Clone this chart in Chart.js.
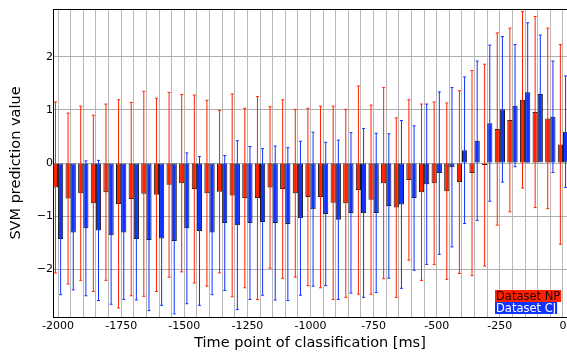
<!DOCTYPE html>
<html>
<head>
<meta charset="utf-8">
<script src="https://cdn.jsdelivr.net/npm/chart.js@4/dist/chart.umd.min.js"></script>
<style>
  html, body { margin: 0; padding: 0; background: #fff; overflow: hidden; }
  #wrap { width: 567px; height: 356px; }
</style>
</head>
<body>
<div id="wrap"><canvas id="chart-svm" width="567" height="356"></canvas></div>
<script>
// ── Data ────────────────────────────────────────────────────────────────────
const TIMES = [-2000, -1950, -1900, -1850, -1800, -1750, -1700, -1650, -1600, -1550,
               -1500, -1450, -1400, -1350, -1300, -1250, -1200, -1150, -1100, -1050,
               -1000, -950, -900, -850, -800, -750, -700, -650, -600, -550,
               -500, -450, -400, -350, -300, -250, -200, -150, -100, -50, 0];

const X_TICKS = [-2000, -1750, -1500, -1250, -1000, -750, -500, -250, 0];
const Y_TICKS = [-2, -1, 0, 1, 2];

// Dataset NP: mean prediction and error (std) per time point
const NP_MEAN = [-0.46, -0.67, -0.57, -0.76, -0.55, -0.77, -0.68, -0.58, -0.60, -0.41,
                 -0.38, -0.49, -0.57, -0.54, -0.61, -0.66, -0.66, -0.46, -0.49, -0.57,
                 -0.64, -0.64, -0.75, -0.76, -0.51, -0.69, -0.38, -0.84, -0.32, -0.55,
                 -0.38, -0.53, -0.36, -0.19, -0.04, 0.64, 0.81, 1.19, 0.96, 0.84, 0.35];
const NP_ERR  = [1.61, 1.61, 1.64, 1.66, 1.66, 1.96, 1.82, 1.93, 1.82, 1.74,
                 1.67, 1.77, 1.75, 1.53, 1.91, 1.69, 1.91, 1.52, 1.68, 1.58,
                 1.67, 1.71, 1.82, 1.77, 1.96, 1.78, 1.80, 1.69, 1.51, 1.66,
                 1.53, 1.66, 1.72, 1.93, 1.90, 1.81, 1.73, 1.66, 1.80, 1.70, 1.88];

// Dataset CJ
const CJ_MEAN = [-1.43, -1.31, -1.23, -1.27, -1.36, -1.31, -1.43, -1.45, -1.42, -1.47,
                 -1.23, -1.28, -1.31, -1.13, -1.17, -1.13, -1.11, -1.13, -1.15, -1.04,
                 -0.87, -0.96, -1.07, -0.94, -0.94, -0.94, -0.81, -0.78, -0.66, -0.40,
                 -0.19, -0.08, 0.24, 0.42, 0.75, 1.01, 1.08, 1.33, 1.30, 0.87, 0.59];
const CJ_ERR  = [1.05, 1.08, 1.27, 1.32, 1.30, 1.26, 1.15, 1.33, 1.26, 1.37,
                 1.42, 1.40, 1.17, 1.27, 1.59, 1.44, 1.38, 1.45, 1.44, 1.45,
                 1.45, 1.35, 1.50, 1.51, 1.59, 1.50, 1.36, 1.58, 1.36, 1.51,
                 1.53, 1.50, 1.38, 1.50, 1.47, 1.37, 1.15, 1.31, 1.11, 1.05, 1.05];

const SERIES_LABELS = ['Dataset NP', 'Dataset CJ'];

// ── Colours ──────────────────────────────────────────────────────────────────
const RED  = '#ff2200';
const BLUE = '#1133ff';
const EDGE = '#1a1a1a';

Chart.defaults.font.family = "'DejaVu Sans', sans-serif";
Chart.defaults.color = '#000';

// ── Error bars, drawn on top of the bars ────────────────────────────────────
const errorBars = {
  id: 'errorBars',
  afterDatasetsDraw(chart) {
    const { ctx, chartArea, scales: { y } } = chart;
    ctx.save();
    ctx.beginPath();
    ctx.rect(chartArea.left, chartArea.top, chartArea.right - chartArea.left, chartArea.bottom - chartArea.top);
    ctx.clip();
    chart.data.datasets.forEach((ds, di) => {
      const meta = chart.getDatasetMeta(di);
      ctx.strokeStyle = ds.errColor;
      ctx.lineWidth = 1;
      meta.data.forEach((bar, i) => {
        const m = ds.data[i].y, e = ds.errors[i];
        const yTop = y.getPixelForValue(m + e);
        const yBot = y.getPixelForValue(m - e);
        ctx.beginPath();
        ctx.moveTo(bar.x, yTop); ctx.lineTo(bar.x, yBot);
        ctx.moveTo(bar.x - 1.5, yTop); ctx.lineTo(bar.x + 1.5, yTop);
        ctx.moveTo(bar.x - 1.5, yBot); ctx.lineTo(bar.x + 1.5, yBot);
        ctx.stroke();
      });
    });
    ctx.restore();
  }
};

// ── Top spine + boxed key in the lower right ────────────────────────────────
const frameAndKey = {
  id: 'frameAndKey',
  afterDraw(chart) {
    const { ctx, chartArea } = chart;
    ctx.save();
    ctx.strokeStyle = '#000';
    ctx.lineWidth = 1;
    ctx.beginPath();
    ctx.moveTo(chartArea.left, chartArea.top + 0.5);
    ctx.lineTo(chartArea.right, chartArea.top + 0.5);
    ctx.stroke();

    ctx.font = "11.5px 'DejaVu Sans', sans-serif";
    ctx.textBaseline = 'alphabetic';
    ctx.textAlign = 'left';
    const keys = [
      { text: SERIES_LABELS[0], bg: RED,  fg: '#200000', y: 290 },
      { text: SERIES_LABELS[1], bg: BLUE, fg: '#ffffff', y: 302 },
    ];
    keys.forEach(k => {
      const w = ctx.measureText(k.text).width;
      ctx.fillStyle = k.bg;
      ctx.fillRect(495, k.y, w + 2, 12);
      ctx.fillStyle = k.fg;
      ctx.fillText(k.text, 496, k.y + 10);
    });
    ctx.restore();
  }
};

// ── Chart ────────────────────────────────────────────────────────────────────
new Chart(document.getElementById('chart-svm'), {
  type: 'bar',
  data: {
    datasets: [
      {
        label: SERIES_LABELS[0],
        data: TIMES.map((t, i) => ({ x: t, y: NP_MEAN[i] })),
        errors: NP_ERR,
        errColor: RED,
        backgroundColor: RED,
        borderColor: EDGE,
        borderWidth: 1,
        borderSkipped: false,
      },
      {
        label: SERIES_LABELS[1],
        data: TIMES.map((t, i) => ({ x: t, y: CJ_MEAN[i] })),
        errors: CJ_ERR,
        errColor: BLUE,
        backgroundColor: BLUE,
        borderColor: EDGE,
        borderWidth: 1,
        borderSkipped: false,
      },
    ],
  },
  options: {
    responsive: false,
    animation: false,
    layout: { padding: { top: 9, left: 0, right: 0, bottom: 0 } },
    datasets: { bar: { categoryPercentage: 0.82, barPercentage: 1.0 } },
    scales: {
      x: {
        type: 'linear',
        min: -2020,
        max: 16,
        offset: false,
        grid: { color: '#b8b8b8', lineWidth: 1, drawTicks: false, offset: false },
        border: { display: true, color: '#000', width: 1 },
        ticks: {
          stepSize: 50,
          maxTicksLimit: 100,
          includeBounds: false,
          autoSkip: false,
          maxRotation: 0,
          padding: 3,
          font: { size: 11 },
          callback: v => X_TICKS.includes(v) ? String(v) : '',
        },
        title: {
          display: true,
          text: 'Time point of classification [ms]',
          font: { size: 14.5 },
          padding: { top: 0, bottom: 4 },
        },
        afterFit: s => { s.height = 39; s.paddingRight = 0; },
      },
      y: {
        min: -2.9,
        max: 2.9,
        grid: { color: '#b0b0b0', lineWidth: 1, drawTicks: false },
        border: { display: true, color: '#000', width: 1 },
        ticks: {
          stepSize: 1,
          includeBounds: false,
          padding: 0,
          font: { size: 11 },
          callback: v => Y_TICKS.includes(v) ? (v < 0 ? '\u2212' + (-v) : String(v)) : '',
        },
        title: {
          display: true,
          text: 'SVM prediction value',
          font: { size: 14.5 },
          padding: { top: 8, bottom: 0 },
        },
        afterFit: s => { s.width = 53; },
      },
    },
    plugins: {
      legend: { display: false },
      tooltip: { enabled: false },
    },
  },
  plugins: [errorBars, frameAndKey],
});
</script>
</body>
</html>
